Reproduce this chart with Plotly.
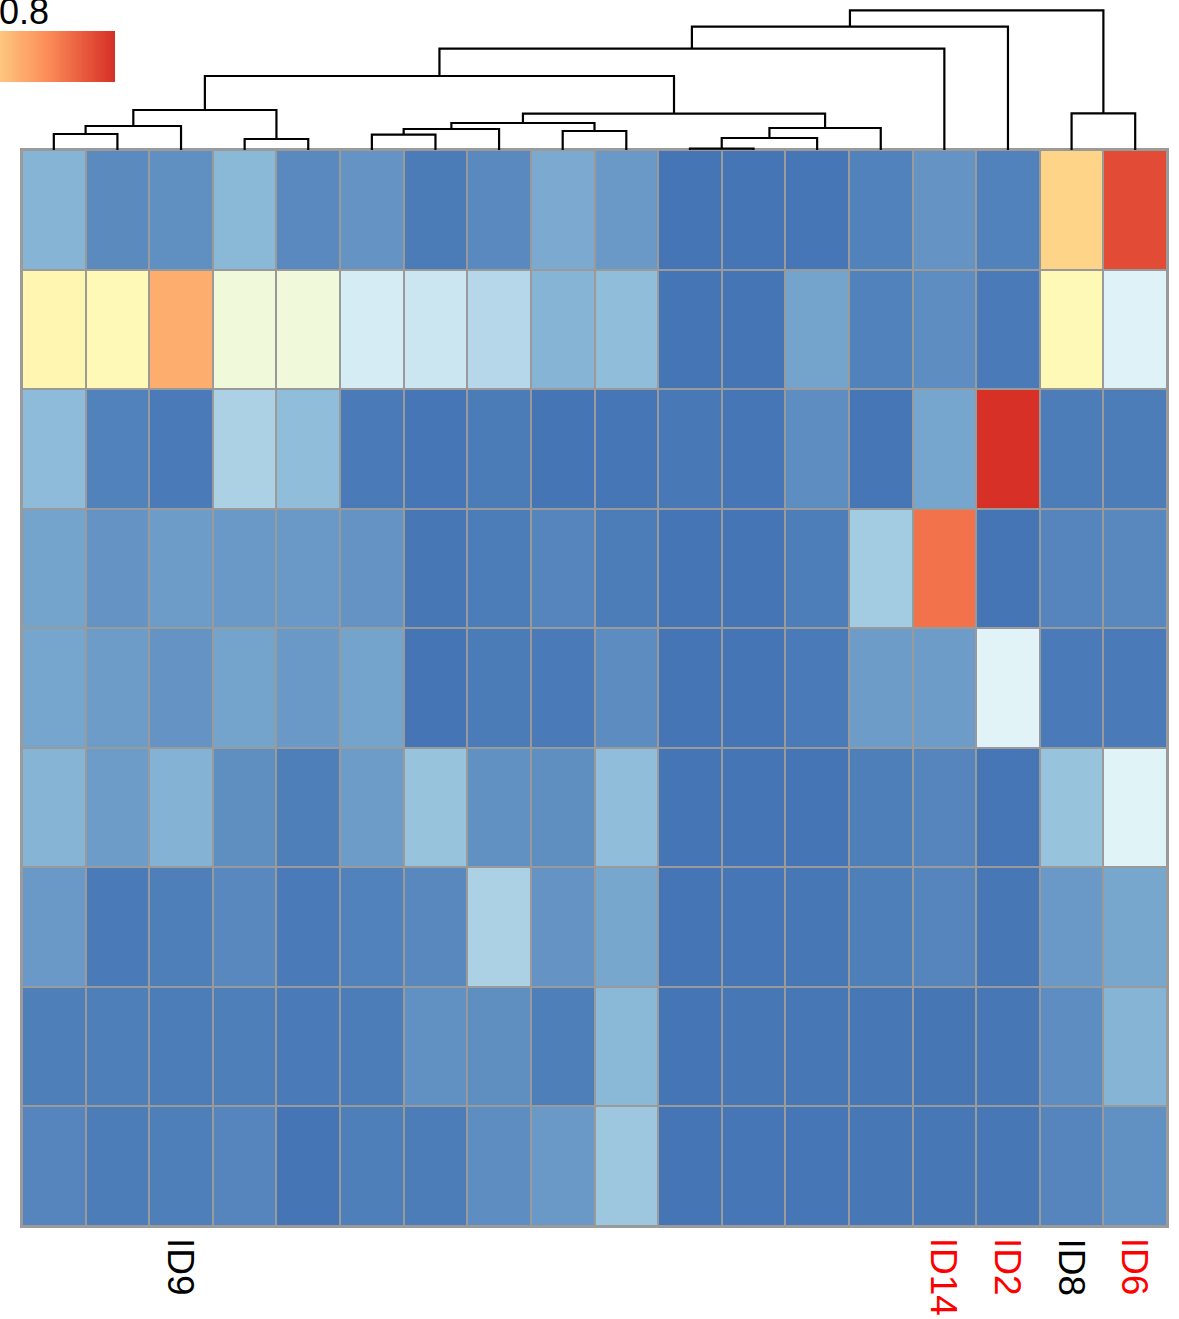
import plotly.graph_objects as go
import numpy as np

# ---------------- data ----------------
columns = ["C1", "C2", "ID9", "C4", "C5", "C6", "C7", "C8", "C9", "C10",
           "C11", "C12", "C13", "C14", "ID14", "ID2", "ID8", "ID6"]
labelled = {"ID9": "black", "ID14": "red", "ID2": "red", "ID8": "black", "ID6": "red"}

row1 = [0.143, 0.048, 0.059, 0.151, 0.046, 0.070, 0.015, 0.046, 0.118, 0.081, 0.000, 0.000, 0.003, 0.029, 0.070, 0.029, 0.690, 0.950]
row2 = [0.550, 0.530, 0.770, 0.420, 0.420, 0.312, 0.291, 0.245, 0.143, 0.162, 0.000, 0.000, 0.103, 0.029, 0.055, 0.011, 0.530, 0.330]
row3 = [0.158, 0.029, 0.011, 0.224, 0.164, 0.011, 0.003, 0.015, 0.000, 0.003, 0.007, 0.003, 0.055, 0.003, 0.107, 1.000, 0.018, 0.018]
row4 = [0.103, 0.070, 0.088, 0.081, 0.081, 0.070, 0.005, 0.018, 0.035, 0.018, 0.000, 0.000, 0.020, 0.205, 0.880, 0.000, 0.035, 0.042]
row5 = [0.107, 0.088, 0.070, 0.103, 0.081, 0.103, 0.000, 0.015, 0.011, 0.053, 0.000, 0.000, 0.011, 0.088, 0.088, 0.340, 0.011, 0.011]
row6 = [0.143, 0.088, 0.138, 0.057, 0.022, 0.088, 0.181, 0.061, 0.057, 0.162, 0.000, 0.000, 0.000, 0.022, 0.035, 0.003, 0.181, 0.335]
row7 = [0.081, 0.011, 0.022, 0.042, 0.011, 0.029, 0.042, 0.224, 0.070, 0.112, 0.000, 0.003, 0.005, 0.022, 0.035, 0.005, 0.081, 0.112]
row8 = [0.022, 0.022, 0.018, 0.022, 0.011, 0.018, 0.061, 0.057, 0.022, 0.151, 0.000, 0.005, 0.005, 0.005, 0.002, 0.005, 0.055, 0.143]
row9 = [0.035, 0.018, 0.022, 0.035, 0.000, 0.022, 0.018, 0.055, 0.081, 0.192, 0.000, 0.003, 0.003, 0.005, 0.005, 0.005, 0.035, 0.061]
rows = [row1, row2, row3, row4, row5, row6, row7, row8, row9]

# column dendrogram (scipy-style linkage: left id, right id, height); leaves 0..17 in display order
link_left = [0, 18, 3, 19, 5, 22, 8, 23, 10, 26, 27, 25, 21, 30, 31, 16, 32]
link_right = [1, 2, 4, 20, 6, 7, 9, 24, 11, 12, 13, 28, 29, 14, 15, 17, 33]
link_height = [1.60, 2.40, 1.10, 4.00, 1.53, 2.10, 1.90, 2.70, 0.13, 1.20, 2.20, 3.63, 7.40, 10.13, 12.33, 3.67, 13.97]

legend_label = "0.8"

# ---------------- style ----------------
colorscale = [[0.0, "#4575B4"], [1/6, "#91BFDB"], [2/6, "#E0F3F8"], [3/6, "#FFFFBF"],
              [4/6, "#FEE090"], [5/6, "#FC8D59"], [1.0, "#D73027"]]
W, H = 1179, 1319
hm_x0, hm_x1 = 22, 1167
hm_y0, hm_y1 = 150, 1226
font_family = "Liberation Sans, Arial, sans-serif"
grid_col = "#9a9a9a"

fig = go.Figure()

fig.add_trace(go.Heatmap(
    z=rows, x=list(range(len(columns))), y=list(range(len(rows))),
    colorscale=colorscale, zmin=0, zmax=1, showscale=False,
    xgap=2, ygap=2, xaxis="x", yaxis="y", hoverinfo="skip"))

# dendrogram from linkage
n = len(columns)
pos = {i: float(i) for i in range(n)}
hgt = {i: 0.0 for i in range(n)}
dx, dy = [], []
for k, (a, b, h) in enumerate(zip(link_left, link_right, link_height)):
    nid = n + k
    dx += [pos[a], pos[a], pos[b], pos[b], None]
    dy += [hgt[a], h, h, hgt[b], None]
    pos[nid] = (pos[a] + pos[b]) / 2
    hgt[nid] = h
fig.add_trace(go.Scatter(x=dx, y=dy, mode="lines", xaxis="x2", yaxis="y2",
                         line=dict(color="black", width=2.2), hoverinfo="skip",
                         showlegend=False))

# legend gradient (cropped colour key)
key_vals = np.linspace(0.72, 1.0, 60)
fig.add_trace(go.Heatmap(z=[list(key_vals)], colorscale=colorscale, zmin=0, zmax=1,
                         showscale=False, xaxis="x3", yaxis="y3", hoverinfo="skip"))

dom_x = [hm_x0 / W, hm_x1 / W]
dom_y = [1 - hm_y1 / H, 1 - hm_y0 / H]
fig.update_layout(
    width=W, height=H, margin=dict(l=0, r=0, t=0, b=0),
    paper_bgcolor="white", plot_bgcolor="white",
    font=dict(family=font_family, color="black"),
    showlegend=False,
    xaxis=dict(domain=dom_x, range=[-0.5, n - 0.5], showticklabels=False, showgrid=False,
               zeroline=False, showline=True, linecolor=grid_col, linewidth=2, mirror=True,
               ticks=""),
    yaxis=dict(domain=dom_y, range=[len(rows) - 0.5, -0.5], showticklabels=False,
               showgrid=False, zeroline=False, showline=True, linecolor=grid_col,
               linewidth=2, mirror=True, ticks=""),
    xaxis2=dict(domain=dom_x, range=[-0.5, n - 0.5], visible=False, anchor="y2"),
    yaxis2=dict(domain=[1 - hm_y0 / H, 1.0], range=[0, hm_y0 / 10], visible=False, anchor="x2"),
    xaxis3=dict(domain=[0, 115 / W], visible=False, anchor="y3"),
    yaxis3=dict(domain=[1 - 82 / H, 1 - 31 / H], visible=False, anchor="x3"),
)

# grey backing for the cell borders (heatmap axes only)
fig.add_shape(type="rect", xref="x domain", yref="y domain", x0=0, x1=1, y0=0, y1=1,
              fillcolor=grid_col, line=dict(width=0), layer="below")

# column labels
for i, c in enumerate(columns):
    if c in labelled:
        fig.add_annotation(x=i, y=1 - hm_y1 / H, xref="x", yref="paper", text=c,
                           textangle=90, showarrow=False, xanchor="center", yanchor="top",
                           yshift=-10, font=dict(size=37, color=labelled[c], family=font_family))

fig.add_annotation(x=0, y=1 - 31 / H, xref="paper", yref="paper", text=legend_label,
                   showarrow=False, xanchor="left", yanchor="bottom", xshift=-3, yshift=-3,
                   font=dict(size=36, color="black", family=font_family))

fig.write_html("out.html", config={"displayModeBar": False},
               post_script="document.body.style.margin='0';")
